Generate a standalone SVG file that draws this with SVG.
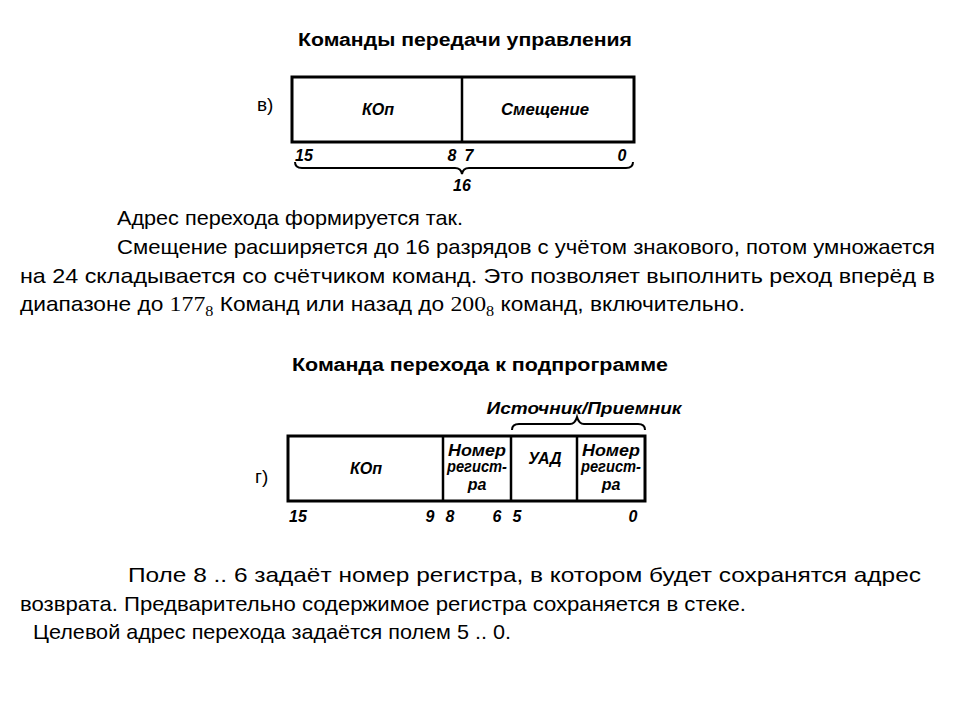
<svg xmlns="http://www.w3.org/2000/svg" width="960" height="720" viewBox="0 0 960 720">
<style>
.title{font-family:"Liberation Sans",Arial,sans-serif;font-weight:bold;font-size:18px;fill:#000;text-anchor:middle}
.body{font-family:"Liberation Sans",Arial,sans-serif;font-size:21px;fill:#000}
.math{font-family:"Liberation Serif","DejaVu Serif",serif;font-size:22px}
.sub{font-family:"Liberation Serif","DejaVu Serif",serif;font-size:15px}
.fld{font-family:"Liberation Sans",Arial,sans-serif;font-weight:bold;font-style:italic;font-size:16px;fill:#000;text-anchor:middle}
.num{font-family:"Liberation Sans",Arial,sans-serif;font-weight:bold;font-style:italic;font-size:16px;fill:#000;text-anchor:middle}
.lbl{font-family:"Liberation Sans",Arial,sans-serif;font-size:19px;fill:#000}
.box{fill:#fff;stroke:#000;stroke-width:3}
.div{stroke:#000;stroke-width:2.5}
.brace{fill:none;stroke:#000;stroke-width:2}
</style>
<rect width="960" height="720" fill="#fff"/>

<text class="title" x="465" y="46" textLength="334" lengthAdjust="spacingAndGlyphs">Команды передачи управления</text>

<g id="format-v">
<text class="lbl" x="257" y="111">в)</text>
<rect class="box" x="292" y="77" width="342" height="65"/>
<line class="div" x1="462" y1="77" x2="462" y2="142"/>
<text class="fld" x="378" y="115" textLength="32" lengthAdjust="spacingAndGlyphs">КОп</text>
<text class="fld" x="545" y="115" textLength="88" lengthAdjust="spacingAndGlyphs">Смещение</text>
<text class="num" x="304" y="161">15</text>
<text class="num" x="452" y="161">8</text>
<text class="num" x="469" y="161">7</text>
<text class="num" x="622" y="161">0</text>
<path class="brace" d="M295,162 Q295,168 302,168 L455,168 Q461,168 462,174 Q463,168 469,168 L626,168 Q633,168 633,162"/>
<text class="num" x="462" y="191">16</text>
</g>

<g id="text-1">
<text class="body" x="117" y="225" textLength="346" lengthAdjust="spacingAndGlyphs">Адрес перехода формируется так.</text>
<text class="body" x="117" y="254" textLength="818" lengthAdjust="spacingAndGlyphs">Смещение расширяется до 16 разрядов с учётом знакового, потом умножается</text>
<text class="body" x="20" y="283" textLength="915" lengthAdjust="spacingAndGlyphs">на 24 складывается со счётчиком команд. Это позволяет выполнить реход вперёд в</text>
<text class="body" x="20" y="311" textLength="725" lengthAdjust="spacingAndGlyphs">диапазоне до <tspan class="math">177</tspan><tspan class="sub" dy="5">8</tspan><tspan dy="-5"> Команд или назад до </tspan><tspan class="math">200</tspan><tspan class="sub" dy="5">8</tspan><tspan dy="-5"> команд, включительно.</tspan></text>
</g>

<text class="title" x="480" y="371" textLength="376" lengthAdjust="spacingAndGlyphs">Команда перехода к подпрограмме</text>

<g id="format-g">
<text class="lbl" x="255" y="483">г)</text>
<text class="fld" x="584" y="414" font-size="17" textLength="195" lengthAdjust="spacingAndGlyphs">Источник/Приемник</text>
<path class="brace" d="M512,430 Q512,424 519,424 L570,424 Q575,424 577,417 Q579,424 584,424 L638,424 Q645,424 645,430"/>
<rect class="box" x="288" y="436" width="357" height="65"/>
<line class="div" x1="443" y1="436" x2="443" y2="501"/>
<line class="div" x1="511" y1="436" x2="511" y2="501"/>
<line class="div" x1="577" y1="436" x2="577" y2="501"/>
<text class="fld" x="366" y="474" textLength="32" lengthAdjust="spacingAndGlyphs">КОп</text>
<text class="fld" x="477" y="456" textLength="58" lengthAdjust="spacingAndGlyphs">Номер</text>
<text class="fld" x="477" y="472" textLength="60" lengthAdjust="spacingAndGlyphs">регист-</text>
<text class="fld" x="477" y="490">ра</text>
<text class="fld" x="545" y="464">УАД</text>
<text class="fld" x="611" y="456" textLength="58" lengthAdjust="spacingAndGlyphs">Номер</text>
<text class="fld" x="611" y="472" textLength="60" lengthAdjust="spacingAndGlyphs">регист-</text>
<text class="fld" x="611" y="490">ра</text>
<text class="num" x="298" y="522">15</text>
<text class="num" x="430" y="522">9</text>
<text class="num" x="450" y="522">8</text>
<text class="num" x="497" y="522">6</text>
<text class="num" x="517" y="522">5</text>
<text class="num" x="633" y="522">0</text>
</g>

<g id="text-2">
<text class="body" x="128" y="582" textLength="793" lengthAdjust="spacingAndGlyphs">Поле 8 .. 6 задаёт номер регистра, в котором будет сохранятся адрес</text>
<text class="body" x="20" y="611" textLength="726" lengthAdjust="spacingAndGlyphs">возврата. Предварительно содержимое регистра сохраняется в стеке.</text>
<text class="body" x="33" y="639" textLength="478" lengthAdjust="spacingAndGlyphs">Целевой адрес перехода задаётся полем 5 .. 0.</text>
</g>
</svg>
